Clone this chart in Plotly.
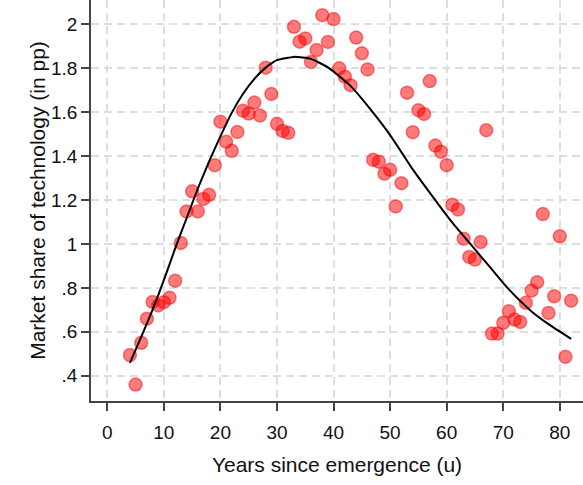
import plotly.graph_objects as go

# Observed market share by years since emergence
years = list(range(4, 83))
share = [
    0.494, 0.36, 0.55, 0.66, 0.736, 0.72, 0.735, 0.755, 0.833, 1.005,
    1.148, 1.24, 1.148, 1.205, 1.224, 1.359, 1.557, 1.466, 1.424, 1.51,
    1.607, 1.594, 1.644, 1.585, 1.803, 1.683, 1.547, 1.515, 1.506, 1.989,
    1.921, 1.936, 1.829, 1.883, 2.042, 1.92, 2.024, 1.80, 1.762, 1.723,
    1.94, 1.868, 1.795, 1.383, 1.375, 1.32, 1.338, 1.171, 1.277, 1.689,
    1.509, 1.609, 1.592, 1.742, 1.448, 1.42, 1.359, 1.179, 1.157, 1.024,
    0.941, 0.929, 1.009, 1.518, 0.592, 0.592, 0.641, 0.694, 0.656, 0.645,
    0.732, 0.788, 0.826, 1.136, 0.686, 0.762, 1.035, 0.486, 0.742,
]

# Fitted life-cycle curve
fit_years = [4, 6, 8, 10, 12, 14, 16, 18, 20, 22, 24, 26, 28, 30, 33, 36,
             39, 43, 46, 50, 54, 57, 61, 64, 68, 71, 75, 78, 82]
fit_share = [0.459, 0.577, 0.70, 0.835, 0.98, 1.116, 1.252, 1.376, 1.49,
             1.597, 1.684, 1.752, 1.803, 1.837, 1.852, 1.843, 1.804, 1.72,
             1.63, 1.496, 1.34, 1.234, 1.097, 1.006, 0.884, 0.793, 0.693,
             0.635, 0.568]

x_ticks = [0, 10, 20, 30, 40, 50, 60, 70, 80]
y_ticks = [0.4, 0.6, 0.8, 1.0, 1.2, 1.4, 1.6, 1.8, 2.0]
y_tick_text = [".4", ".6", ".8", "1", "1.2", "1.4", "1.6", "1.8", "2"]

FONT = "Liberation Sans, Arial, sans-serif"

fig = go.Figure()
fig.add_trace(go.Scatter(
    x=years, y=share, mode="markers",
    marker=dict(size=13, color="rgba(255,0,0,0.52)",
                line=dict(color="rgba(235,0,0,0.45)", width=1.5)),
    showlegend=False, hoverinfo="skip",
))
fig.add_trace(go.Scatter(
    x=fit_years, y=fit_share, mode="lines",
    line=dict(color="black", width=2, shape="spline", smoothing=0.5),
    showlegend=False, hoverinfo="skip",
))

axis_common = dict(
    showline=True, linecolor="#444", linewidth=1.5,
    ticks="outside", ticklen=8, tickcolor="#444", tickwidth=1.5,
    showgrid=True, gridcolor="#dedede", gridwidth=1.5, griddash="8px,5px",
    zeroline=False, tickfont=dict(family=FONT, size=19, color="#111"),
)

fig.update_layout(
    width=583, height=485,
    margin=dict(l=91, r=0, t=0, b=84),
    paper_bgcolor="white", plot_bgcolor="white",
    font=dict(family=FONT, color="#111"),
    xaxis=dict(
        range=[-2.88, 84.1], tickvals=x_ticks, ticklabelstandoff=5,
        title=dict(text="Years since emergence (u)", font=dict(family=FONT, size=21), standoff=16),
        **axis_common,
    ),
    yaxis=dict(
        range=[0.285, 2.111], tickvals=y_ticks, ticktext=y_tick_text,
        title=dict(text="Market share of technology (in pp)", font=dict(family=FONT, size=21), standoff=0),
        **axis_common,
    ),
)

fig.write_html("out.html")
